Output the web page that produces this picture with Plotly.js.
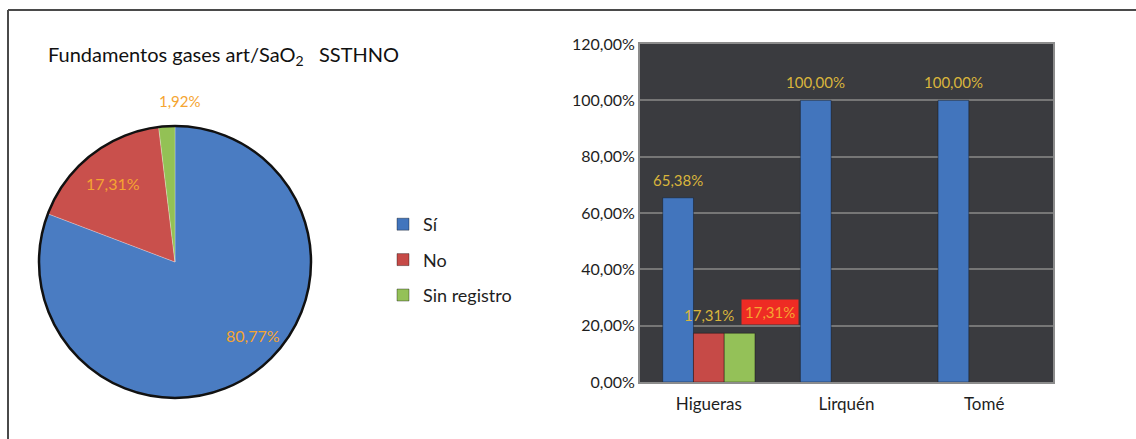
<!DOCTYPE html>
<html>
<head>
<meta charset="utf-8">
<script src="https://cdn.plot.ly/plotly-3.0.1.min.js"></script>
<style>
html,body{margin:0;padding:0;background:#fff;}
#chart{width:1136px;height:439px;}
</style>
</head>
<body>
<div id="chart"></div>
<script>
// ---- data ----
const pieLabels = ['Sí', 'No', 'Sin registro'];
const pieValues = [80.77, 17.31, 1.92];
const categories = ['Higueras', 'Lirquén', 'Tomé'];
const seriesNames = ['Sí', 'No', 'Sin registro'];
const siValues = [0.6538, 1.0, 1.0];
const noValues = [0.1731, null, null];
const sinRegistroValues = [0.1731, null, null];
const yTickValues = [0, 0.2, 0.4, 0.6, 0.8, 1.0, 1.2];

// ---- styles ----
const FONT = 'Lato, "Open Sans", sans-serif';
const colors = ['#4275bd', '#c64a47', '#94c158'];
const pieColors = ['#4a7cc2', '#c9504c', '#93c155'];
const labelGold = '#d9b53c';
const labelOrange = '#f5a531';
const W = 1136, H = 439;
const px = v => v / W;
const py = v => 1 - v / H;
const pieLabelPos = [[253, 335], [113, 183], [180, 101]]; // label placement (px)

const barSeries = [siValues, noValues, sinRegistroValues];
const traces = [];

traces.push({
  type: 'pie',
  labels: pieLabels,
  values: pieValues,
  sort: false,
  direction: 'clockwise',
  rotation: 0,
  domain: {x: [px(39), px(311)], y: [py(398), py(126)]},
  marker: {colors: pieColors, line: {color: 'rgba(255,255,255,0.25)', width: 1}},
  textinfo: 'none',
  showlegend: false,
  hoverinfo: 'label+percent'
});

seriesNames.forEach((name, i) => {
  traces.push({
    type: 'bar',
    name: name,
    x: categories,
    y: barSeries[i],
    xaxis: 'x', yaxis: 'y',
    legendgroup: 'g' + i,
    marker: {color: colors[i], line: {color: 'rgba(0,0,0,0.35)', width: 1}},
    showlegend: true
  });
});

const fmt = v => v.toFixed(2).replace('.', ',') + '%';
const annotations = [];

// pie value labels
const pieTotal = pieValues.reduce((a, b) => a + b, 0);
pieValues.forEach((v, i) => {
  annotations.push({
    xref: 'paper', yref: 'paper',
    x: px(pieLabelPos[i][0]), y: py(pieLabelPos[i][1]),
    text: fmt(v / pieTotal * 100),
    showarrow: false, xanchor: 'center', yanchor: 'middle',
    font: {family: FONT, size: i === 2 ? 15 : 16, color: labelOrange}
  });
});

// bar value labels built from the data arrays
const slot = 30.6;
barSeries.forEach((vals, i) => {
  vals.forEach((v, j) => {
    if (v === null) return;
    const isBoxed = (i === 2);
    annotations.push({
      xref: 'x', yref: 'y',
      x: categories[j], y: v,
      text: fmt(v * 100),
      showarrow: false,
      xanchor: 'center', yanchor: 'middle',
      xshift: isBoxed ? 61 : (i - 1) * slot,
      yshift: isBoxed ? 21 : 18,
      font: {family: FONT, size: 15, color: isBoxed ? labelOrange : labelGold},
      bgcolor: isBoxed ? '#ee2b24' : 'rgba(0,0,0,0)',
      borderpad: isBoxed ? 3 : 0
    });
  });
});

const layout = {
  width: W, height: H,
  margin: {l: 0, r: 0, t: 0, b: 0},
  paper_bgcolor: '#ffffff',
  plot_bgcolor: '#3a3b3f',
  separators: ',.',
  font: {family: FONT, size: 16, color: '#1e1e1e'},
  title: {
    text: 'Fundamentos gases art/SaO<sub>2</sub>   SSTHNO',
    x: px(48), xanchor: 'left', xref: 'paper',
    y: py(55), yanchor: 'middle', yref: 'paper',
    font: {family: FONT, size: 20, color: '#111'}
  },
  barmode: 'group',
  bargap: 0.33,
  bargroupgap: 0,
  xaxis: {
    domain: [px(640), px(1053)],
    anchor: 'y',
    showline: true, mirror: true, linecolor: '#8c8c8c', linewidth: 2,
    showgrid: false,
    ticks: '',
    ticklabelstandoff: 6,
    tickfont: {family: FONT, size: 17, color: '#1e1e1e'},
    fixedrange: true
  },
  yaxis: {
    domain: [py(382), py(44)],
    anchor: 'x',
    range: [0, 1.2],
    tickvals: yTickValues,
    tickformat: '.2%',
    showline: true, mirror: true, linecolor: '#8c8c8c', linewidth: 2,
    showgrid: true, gridcolor: '#767676', gridwidth: 2,
    zeroline: false,
    ticks: '',
    ticklabelstandoff: 0,
    tickfont: {family: FONT, size: 16, color: '#1e1e1e'},
    fixedrange: true
  },
  legend: {
    x: px(383), xanchor: 'left',
    y: py(260), yanchor: 'middle',
    traceorder: 'grouped',
    tracegroupgap: 9,
    itemwidth: 30,
    font: {family: FONT, size: 18, color: '#1e1e1e'},
    bgcolor: 'rgba(0,0,0,0)'
  },
  annotations: annotations,
  shapes: [
    {type: 'line', xref: 'paper', yref: 'paper', x0: px(8), x1: 1, y0: py(10), y1: py(10), line: {color: '#4a4a4a', width: 2}},
    {type: 'line', xref: 'paper', yref: 'paper', x0: px(8), x1: px(8), y0: py(10), y1: 0, line: {color: '#4a4a4a', width: 2}},
    {type: 'circle', xref: 'paper', yref: 'paper', x0: px(39), x1: px(311), y0: py(398), y1: py(126), line: {color: '#111', width: 2.5}, layer: 'above'}
  ]
};

Plotly.newPlot('chart', traces, layout, {displayModeBar: false, staticPlot: true});
</script>
</body>
</html>
